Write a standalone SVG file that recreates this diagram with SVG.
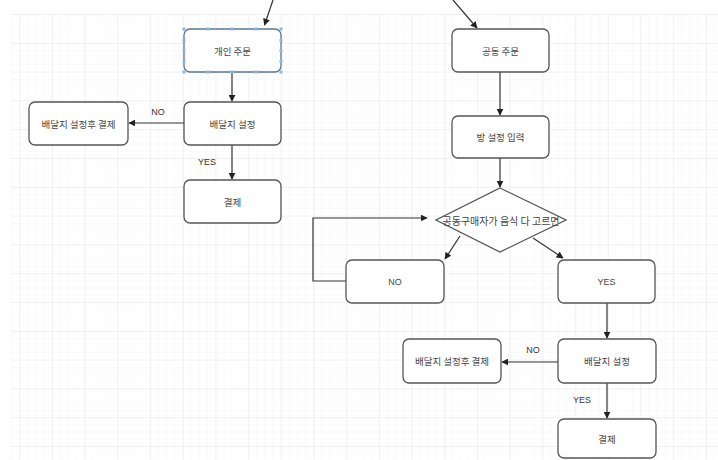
<svg xmlns="http://www.w3.org/2000/svg" width="718" height="460" viewBox="0 0 718 460">
<defs>
<pattern id="minor" x="11" y="14" width="8.17" height="7.2" patternUnits="userSpaceOnUse">
<path d="M0 0V7.2M0 0H8.17" fill="none" stroke="#f6f6f6" stroke-width="1"/>
</pattern>
<pattern id="major" x="19.3" y="14" width="32.7" height="28.8" patternUnits="userSpaceOnUse">
<path d="M0 0V28.8M0 0H32.7" fill="none" stroke="#e8e8e8" stroke-width="1"/>
</pattern>
<marker id="arr" viewBox="0 0 10 10" refX="9" refY="5" markerWidth="7" markerHeight="7" orient="auto" markerUnits="userSpaceOnUse">
<path d="M0 0L10 5L0 10z" fill="#222"/>
</marker>
</defs>
<style>
.box{fill:#fff;stroke:#555;stroke-width:1.3}
.t{font-family:"Noto Sans CJK KR","Noto Sans",sans-serif;font-size:9.5px;fill:#444;text-anchor:middle;dominant-baseline:central}
.lab{font-family:"Liberation Sans",Arial,sans-serif;font-size:9px;fill:#333;text-anchor:middle;dominant-baseline:central}
.c{fill:none;stroke:#333;stroke-width:1.2}
.h{fill:#8ab8e6;stroke:none}
</style>
<rect width="718" height="460" fill="#fff"/>
<rect x="11" y="14" width="707" height="446" fill="url(#minor)"/>
<rect x="11" y="14" width="707" height="446" fill="url(#major)"/>

<g id="connectors">
<path class="c" d="M273 0L264.5 25" marker-end="url(#arr)"/>
<path class="c" d="M232 72V101" marker-end="url(#arr)"/>
<path class="c" d="M184 123H129" marker-end="url(#arr)"/>
<path class="c" d="M232 145V179" marker-end="url(#arr)"/>
<path class="c" d="M453 0L477 28" marker-end="url(#arr)"/>
<path class="c" d="M500 72V115" marker-end="url(#arr)"/>
<path class="c" d="M500 158V187" marker-end="url(#arr)"/>
<path class="c" d="M346 281H313V218H427" marker-end="url(#arr)"/>
<path class="c" d="M460 236L445 259" marker-end="url(#arr)"/>
<path class="c" d="M533 238L563 258" marker-end="url(#arr)"/>
<path class="c" d="M607 303V338" marker-end="url(#arr)"/>
<path class="c" d="M558 362H502" marker-end="url(#arr)"/>
<path class="c" d="M607 383V418" marker-end="url(#arr)"/>
<text class="lab" x="158" y="112">NO</text>
<text class="lab" x="207" y="162">YES</text>
<text class="lab" x="533" y="350">NO</text>
<text class="lab" x="582" y="400">YES</text>
</g>

<g id="personal-order">
<rect class="box" x="184" y="29" width="97" height="43" rx="6" style="stroke:#5a7590"/>
<text class="t" x="232.5" y="51">개인 주문</text>
<g class="handles">
<rect class="h" x="182.5" y="27.5" width="3" height="3"/><rect class="h" x="206.5" y="27.5" width="3" height="3"/><rect class="h" x="230.5" y="27.5" width="3" height="3"/><rect class="h" x="254.5" y="27.5" width="3" height="3"/><rect class="h" x="279.5" y="27.5" width="3" height="3"/>
<rect class="h" x="182.5" y="70.5" width="3" height="3"/><rect class="h" x="206.5" y="70.5" width="3" height="3"/><rect class="h" x="230.5" y="70.5" width="3" height="3"/><rect class="h" x="254.5" y="70.5" width="3" height="3"/><rect class="h" x="279.5" y="70.5" width="3" height="3"/>
<rect class="h" x="182.5" y="39" width="3" height="3"/><rect class="h" x="182.5" y="49" width="3" height="3"/><rect class="h" x="182.5" y="60" width="3" height="3"/>
<rect class="h" x="279.5" y="39" width="3" height="3"/><rect class="h" x="279.5" y="49" width="3" height="3"/><rect class="h" x="279.5" y="60" width="3" height="3"/>
</g>
</g>
<g id="addr-left">
<rect class="box" x="184" y="102" width="97" height="43" rx="6"/>
<text class="t" x="232.5" y="123.5">배달지 설정</text>
</g>
<g id="addr-pay-left">
<rect class="box" x="29" y="102" width="99" height="43" rx="6"/>
<text class="t" x="78.5" y="123.5">배달지 설정후 결제</text>
</g>
<g id="pay-left">
<rect class="box" x="184" y="180" width="97" height="43" rx="6"/>
<text class="t" x="232.5" y="201.5">결제</text>
</g>

<g id="group-order">
<rect class="box" x="452" y="29" width="97" height="43" rx="6"/>
<text class="t" x="500.5" y="51">공동 주문</text>
</g>
<g id="room-setup">
<rect class="box" x="452" y="116" width="97" height="42" rx="6"/>
<text class="t" x="500.5" y="137">방 설정 입력</text>
</g>
<g id="decision">
<path class="box" d="M500 188L566 220L500 252L436 220Z"/>
<text class="t" x="501" y="220" style="font-size:10px">공동구매자가 음식 다 고르면</text>
</g>
<g id="no-box">
<rect class="box" x="346" y="260" width="98" height="43" rx="6"/>
<text class="t" x="395" y="281.5" style="font-family:'Liberation Sans',Arial,sans-serif;font-size:9px">NO</text>
</g>
<g id="yes-box">
<rect class="box" x="558" y="260" width="97" height="43" rx="6"/>
<text class="t" x="606.5" y="281.5" style="font-family:'Liberation Sans',Arial,sans-serif;font-size:9px">YES</text>
</g>
<g id="addr-right">
<rect class="box" x="558" y="339" width="98" height="44" rx="6"/>
<text class="t" x="607" y="361">배달지 설정</text>
</g>
<g id="addr-pay-right">
<rect class="box" x="403" y="339" width="98" height="44" rx="6"/>
<text class="t" x="452" y="361">배달지 설정후 결제</text>
</g>
<g id="pay-right">
<rect class="box" x="558" y="419" width="98" height="39" rx="6"/>
<text class="t" x="607" y="438.5">결제</text>
</g>
</svg>
